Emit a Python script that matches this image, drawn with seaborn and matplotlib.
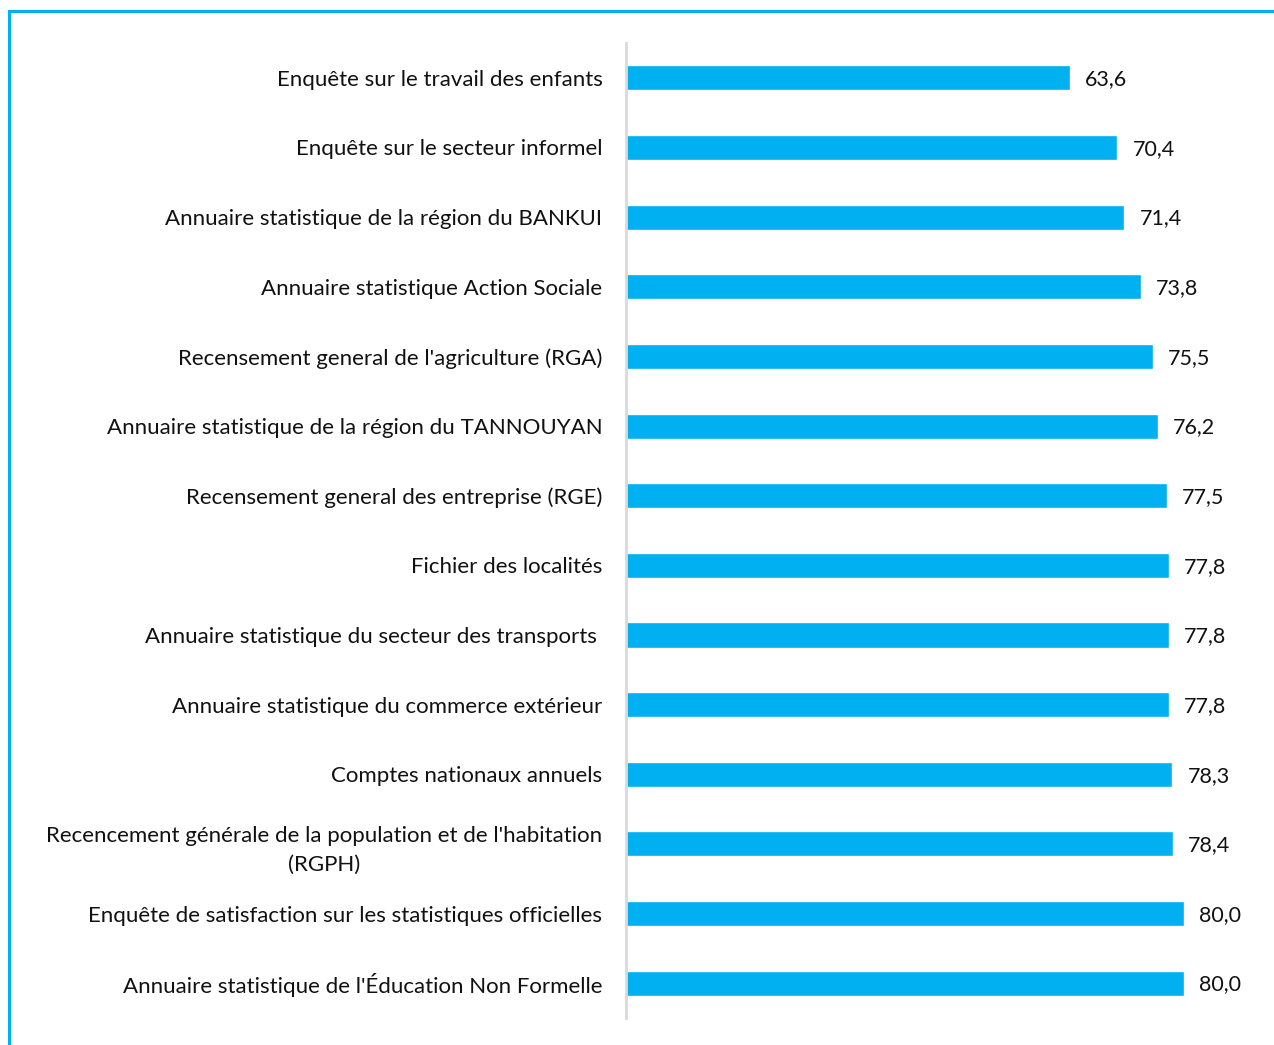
import pandas as pd
import seaborn as sns
import matplotlib.pyplot as plt
from matplotlib.patches import Rectangle

labels = [
    "Enquête sur le travail des enfants",
    "Enquête sur le secteur informel",
    "Annuaire statistique de la région du BANKUI",
    "Annuaire statistique Action Sociale",
    "Recensement general de l'agriculture (RGA)",
    "Annuaire statistique de la région du TANNOUYAN",
    "Recensement general des entreprise (RGE)",
    "Fichier des localités",
    "Annuaire statistique du secteur des transports ",
    "Annuaire statistique du commerce extérieur",
    "Comptes nationaux annuels",
    "Recencement générale de la population et de l'habitation\n(RGPH)",
    "Enquête de satisfaction sur les statistiques officielles",
    "Annuaire statistique de l'Éducation Non Formelle",
]
values = [63.6, 70.4, 71.4, 73.8, 75.5, 76.2, 77.5, 77.8, 77.8, 77.8, 78.3, 78.4, 80.0, 80.0]

if __name__ == "__main__":
    data = pd.DataFrame({"label": labels, "value": values})
    sns.set_theme(style="white")
    plt.rcParams["font.family"] = ["Lato", "DejaVu Sans"]

    W, H = 1274, 1045
    fig = plt.figure(figsize=(W / 100, H / 100), dpi=100)
    ax = fig.add_axes([626 / W, 1 - 1018 / H, (1272 - 626) / W, (1018 - 43) / H])

    blue = "#00B0F0"
    sns.barplot(data=data, x="value", y="label", color=blue, orient="h",
                width=0.36, saturation=1, ax=ax)

    # Value labels with comma decimals.
    for p, v in zip(ax.patches, data["value"]):
        ax.text(p.get_width() + 2.2, p.get_y() + p.get_height() / 2 + 0.02,
                f"{v:.1f}".replace(".", ","), va="center", ha="left",
                fontsize=15.5, color="#111111")

    ax.set_xlim(0, 92.6)
    ax.set_ylim(13.5, -0.5)
    ax.set(xlabel="", ylabel="", xticks=[])
    ax.tick_params(axis="y", length=0, pad=17, labelsize=16, labelcolor="#111111")
    for lbl in ax.get_yticklabels():
        lbl.set_multialignment("center")
        lbl.set_linespacing(1.55)
    sns.despine(ax=ax, top=True, right=True, bottom=True)
    ax.spines["left"].set_color("#d9d9d9")
    ax.spines["left"].set_linewidth(2)

    # Blue frame around the chart area.
    fig.patches.append(Rectangle((9 / W, -0.05), 1.1, 1 - 11 / H + 0.05,
                                 transform=fig.transFigure, fill=False,
                                 edgecolor=blue, linewidth=2.2))

    fig.savefig("out.png", dpi=100)
